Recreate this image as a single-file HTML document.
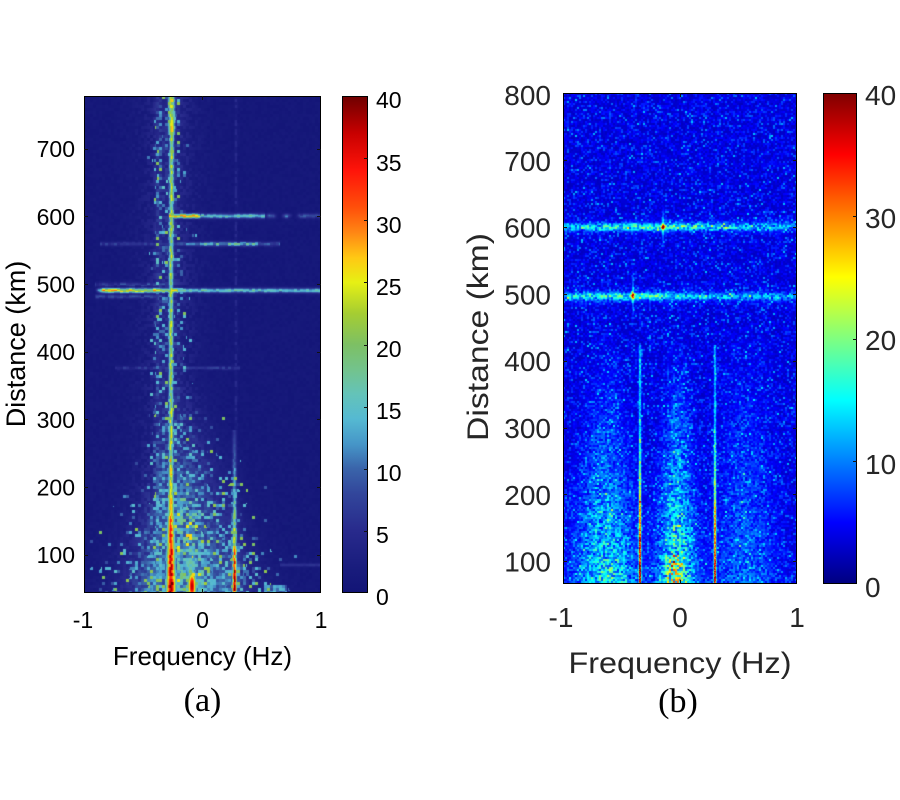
<!DOCTYPE html>
<html><head><meta charset="utf-8">
<style>
html,body{margin:0;padding:0;background:#fff;}
body{width:900px;height:800px;position:relative;overflow:hidden;}
canvas{position:absolute;display:block;}
#ca{left:84px;top:96px;width:237px;height:497px;background:#14187a;}
#cb{left:563px;top:93px;width:234px;height:491px;background:#0818d0;}
.cbar{position:absolute;}
#cba{left:342px;top:96px;width:26px;height:497px;background:linear-gradient(to top,rgb(18,20,118) 0%,rgb(25,28,125) 5%,rgb(40,42,140) 12.5%,rgb(50,70,155) 20%,rgb(58,100,170) 25%,rgb(70,150,200) 30%,rgb(85,185,210) 35%,rgb(100,195,185) 40%,rgb(115,195,140) 45%,rgb(125,192,100) 50%,rgb(165,205,50) 56.25%,rgb(230,240,20) 62.5%,rgb(255,200,20) 67.5%,rgb(255,135,20) 72.5%,rgb(255,80,10) 77.5%,rgb(255,20,10) 85%,rgb(200,0,0) 92.5%,rgb(110,0,0) 100%);}
#cbb{left:823px;top:93px;width:34px;height:491px;background:linear-gradient(to top,#00007f 0%,#0000ff 12.5%,#00ffff 37.5%,#ffff00 62.5%,#ff0000 87.5%,#7f0000 100%);}
svg{position:absolute;left:0;top:0;}
</style></head><body>
<canvas id="ca" width="237" height="497"></canvas>
<canvas id="cb" width="234" height="491"></canvas>
<div class="cbar" id="cba"></div>
<div class="cbar" id="cbb"></div>
<svg width="900" height="800" xmlns="http://www.w3.org/2000/svg">
<g fill="none" stroke="#000" stroke-width="1">
<rect x="84.5" y="96.5" width="236" height="496"/>
<rect x="342.5" y="96.5" width="25" height="496"/>
<rect x="563.5" y="93.5" width="233" height="490"/>
<rect x="823.5" y="93.5" width="33" height="490"/>
</g>
<g stroke="#111" stroke-width="1">
<path d="M84 149.5h4M84 216.5h4M84 284.5h4M84 352.5h4M84 419.5h4M84 487.5h4M84 555.5h4"/>
<path d="M321 149.5h-4M321 216.5h-4M321 284.5h-4M321 352.5h-4M321 419.5h-4M321 487.5h-4M321 555.5h-4"/>
<path d="M202.5 593v-4M202.5 96v4"/>
<path d="M368 158.5h-4M368 220.5h-4M368 282.5h-4M368 345.5h-4M368 407.5h-4M368 469.5h-4M368 531.5h-4"/>
<path d="M563 160.5h4M563 227.5h4M563 294.5h4M563 361.5h4M563 428.5h4M563 494.5h4M563 561.5h4"/>
<path d="M797 160.5h-4M797 227.5h-4M797 294.5h-4M797 361.5h-4M797 428.5h-4M797 494.5h-4M797 561.5h-4"/>
<path d="M680.5 584v-4M680.5 93v4"/>
<path d="M857 216.5h-4M857 339.5h-4M857 461.5h-4"/>
</g>
<g font-family="Liberation Sans, Arial, sans-serif" fill="#000" font-size="23">
<g text-anchor="end">
<text x="75" y="157.2">700</text>
<text x="75" y="224.9">600</text>
<text x="75" y="292.5">500</text>
<text x="75" y="360.2">400</text>
<text x="75" y="427.9">300</text>
<text x="75" y="495.5">200</text>
<text x="75" y="563.2">100</text>
</g>
<text x="376" y="108">40</text>
<text x="376" y="171">35</text>
<text x="376" y="233">30</text>
<text x="376" y="295">25</text>
<text x="376" y="357">20</text>
<text x="376" y="419">15</text>
<text x="376" y="481">10</text>
<text x="376" y="543">5</text>
<text x="376" y="605">0</text>
<g text-anchor="middle">
<text x="83" y="628">-1</text>
<text x="202.5" y="628">0</text>
<text x="321" y="628">1</text>
<text x="202.5" y="665" font-size="26">Frequency (Hz)</text>
<text transform="translate(25,344) rotate(-90)" font-size="27">Distance (km)</text>
</g>
</g>
<g font-family="Liberation Sans, Arial, sans-serif" fill="#262626" font-size="28">
<g text-anchor="end">
<text x="551" y="105">800</text>
<text x="551" y="170.8">700</text>
<text x="551" y="237.6">600</text>
<text x="551" y="304.4">500</text>
<text x="551" y="371.2">400</text>
<text x="551" y="438">300</text>
<text x="551" y="504.8">200</text>
<text x="551" y="571.6">100</text>
</g>
<text x="865" y="105">40</text>
<text x="865" y="228">30</text>
<text x="865" y="350">20</text>
<text x="865" y="474">10</text>
<text x="865" y="597">0</text>
<g text-anchor="middle">
<text x="561" y="627">-1</text>
<text x="680" y="627">0</text>
<text x="797" y="627">1</text>
<text x="680" y="673" font-size="30" textLength="223" lengthAdjust="spacingAndGlyphs">Frequency (Hz)</text>
<text transform="translate(488,337) rotate(-90)" font-size="30" textLength="208" lengthAdjust="spacingAndGlyphs">Distance (km)</text>
</g>
</g>
<g font-family="Liberation Serif, Times New Roman, serif" fill="#000" font-size="34" text-anchor="middle">
<text x="202.5" y="711">(a)</text>
<text x="678" y="712">(b)</text>
</g>
</svg>
<script>
(function(){
function R(s){return function(){s=(s*1664525+1013904223)>>>0;return s/4294967296;};}
function g(d,s){return Math.exp(-d*d/(2*s*s));}
var mapA=[[0,18,20,118],[2,25,28,125],[5,40,42,140],[8,50,70,155],[10,58,100,170],[12,70,150,200],[14,85,185,210],[16,100,195,185],[18,115,195,140],[20,125,192,100],[22.5,165,205,50],[25,230,240,20],[27,255,200,20],[29,255,135,20],[31,255,80,10],[34,255,20,10],[37,200,0,0],[40,110,0,0]];
function cmA(v){
 if(v<=mapA[0][0])return [mapA[0][1],mapA[0][2],mapA[0][3]];
 for(var i=1;i<mapA.length;i++){if(v<=mapA[i][0]){var a=mapA[i-1],b=mapA[i],t=(v-a[0])/(b[0]-a[0]);return [a[1]+(b[1]-a[1])*t,a[2]+(b[2]-a[2])*t,a[3]+(b[3]-a[3])*t];}}
 var l=mapA[mapA.length-1];return [l[1],l[2],l[3]];
}
function cl(x){return x<0?0:x>1?1:x;}
function jet(v){var t=cl(v/40);return [255*cl(1.5-Math.abs(4*t-3)),255*cl(1.5-Math.abs(4*t-2)),255*cl(1.5-Math.abs(4*t-1))];}

// Panel A
try{
 var cv=document.getElementById('ca'),ctx=cv.getContext('2d');
 var W=237,H=497,X0=84,Y0=96,cw=3,ch=3;
 var rnd=R(987654321);
 var nx=Math.ceil(W/cw)+1,ny=Math.ceil(H/ch)+1,N=nx*ny;
 var A=[],B=[],C=[],D=[];
 for(var i=0;i<N;i++){A.push(rnd());B.push(rnd());C.push(rnd());D.push(rnd());}
 var img=ctx.createImageData(W,H),d=img.data;
 for(var py=0;py<H;py++){var y=py+Y0+0.5;
  for(var px=0;px<W;px++){var x=px+X0+0.5;
   var ci=((px/cw)|0)+((py/ch)|0)*nx;
   var a=A[ci],b=B[ci],c=C[ci],e=D[ci];
   var base=0.4+a*1.0;
   var f=0,t;
   // main line
   var x0=171+(y<300?(300-y)*0.004:0);
   var s=1.8,amp=20,fac=0.75+0.5*b;
   if(y<135){s=2.6;amp=22;}
   else if(y>475){t=(y-475)/118;s=1.8+t*1.8;amp=22+t*17;fac=0.85+0.3*b;}
   else if(y>400){t=(y-400)/75;amp=20+t*4;}
   f=Math.max(f,amp*fac*g(x-x0,s));
   // speckles
   var p=0.24*g(x-171,9)+0.22*g(x-158,2.5);
   var tc=0;
   if(y>380){tc=(y-380)/213;p+=1.0*Math.pow(tc,1.2)*g(x-188,11+tc*30);}
   if(y>430){p+=0.35*g(x-234,6)*(y-430)/163;}
   if(y>585&&x>264&&x<287)p+=0.9;
   var sv;
   if(c<p){sv=7+8*e+(e>0.9?5:0);if(tc>0.5)sv+=8*tc*g(x-188,10)*e;}
   else sv=p*9+3.5*g(x-168,22)*(e<0.4?1:0.3)+5*tc*g(x-186,14+26*tc)*(e<0.6?1:0.3);
   f=Math.max(f,sv);
   // line 2
   if(y>430){var amp2=y<500?6+(y-430)/70*9:y<535?15+(y-500)/35*8:25+(y-535)/58*13;f=Math.max(f,amp2*(0.7+0.5*b)*g(x-234.5,1.6));}
   // red blob & yellow around
   f=Math.max(f,37*g(x-192,3)*g(y-586,11));
   f=Math.max(f,14*(0.6+0.8*b)*g(x-191,6)*g(y-560,16));
   // horizontal lines
   var h=0;
   if(x>95){h=x<103?(x-95)/8*24:x<160?24:x<178?21:14;}
   f=Math.max(f,h*(0.75+0.5*b)*g(y-290.5,1.7));
   if(x>95&&x<165){f=Math.max(f,6*(g(y-284.5,1.5)+g(y-296.5,1.5))*(0.5+b));}
   h=0;
   if(x>169){h=x<200?24:x<265?14:x<300?9*(0.5+0.5*Math.sin(x/2.5)):7;}
   f=Math.max(f,h*(0.75+0.5*b)*g(y-216,1.7));
   h=0;
   if(x>100&&x<280){h=x<170?6:x<200?10:x<258?15:8;}
   f=Math.max(f,h*(0.6+0.7*b)*g(y-244,1.5));
   if(x>115&&x<240)f=Math.max(f,5*(0.5+b)*g(y-368,1.3));
   if(y<430)f=Math.max(f,4*(c>0.5?1:0.3)*g(x-236,1));
   if(x>280)f=Math.max(f,5*g(y-565,1.2));
   var v=base+f;
   var col=cmA(v),k=(py*W+px)*4;
   d[k]=col[0];d[k+1]=col[1];d[k+2]=col[2];d[k+3]=255;
  }}
 ctx.putImageData(img,0,0);
}catch(err){}

// Panel B
try{
 var cv2=document.getElementById('cb'),ctx2=cv2.getContext('2d');
 var W2=234,H2=491,X1=563,Y1=93,cw2=2,ch2=2;
 var rnd2=R(24680);
 var nx2=Math.ceil(W2/cw2)+1,ny2=Math.ceil(H2/ch2)+1,N2=nx2*ny2;
 var A2=[],B2=[];
 for(var j=0;j<N2;j++){A2.push(rnd2());B2.push(rnd2());}
 var img2=ctx2.createImageData(W2,H2),d2=img2.data;
 for(var qy=0;qy<H2;qy++){var y2=qy+Y1+0.5;
  for(var qx=0;qx<W2;qx++){var x2=qx+X1+0.5;
   var cj=((qx/cw2)|0)+((qy/ch2)|0)*nx2;
   var a2=A2[cj],b2=B2[cj],pr=rnd2();
   var v2=2.5+2.0*(-Math.log(1-a2*0.995));
   var f2=cl((y2-320)/264);
   if(f2>0){
    var band=10*Math.pow(f2,1.3)*g(x2-606,9+15*f2)+12*Math.pow(f2,1.2)*g(x2-677,7+7*f2)+5*f2*g(x2-745,14+8*f2)+(y2>555?6*g(x2-673,6):0);
    v2+=band*(0.3+1.4*b2);
   }
   v2+=(6+5*g(x2-655,50))*g(y2-227,2.7)*(0.5+1.0*b2)+2.5*g(y2-227,6)*b2;
   v2+=(6+4*g(x2-625,50))*g(y2-296.5,2.7)*(0.5+1.0*b2)+2.5*g(y2-296.5,6)*b2;
   v2+=24*g(x2-663,1.5)*g(y2-227,1.5)+10*g(x2-663,0.7)*g(y2-227,10);
   v2+=22*g(x2-633,1.5)*g(y2-295,1.5)+10*g(x2-633,0.7)*g(y2-295,12);
   if(y2>345){
    var am=y2<420?10:y2<500?10+(y2-420)/80*10:24+(y2-500)/84*12;
    v2+=am*(0.75+0.5*pr)*g(x2-640,0.8);
    v2+=am*0.95*(0.75+0.5*pr)*g(x2-715,0.8);
   }
   var col2=jet(v2),k2=(qy*W2+qx)*4;
   d2[k2]=col2[0];d2[k2+1]=col2[1];d2[k2+2]=col2[2];d2[k2+3]=255;
  }}
 ctx2.putImageData(img2,0,0);
}catch(err){}
})();
</script>
</body></html>
